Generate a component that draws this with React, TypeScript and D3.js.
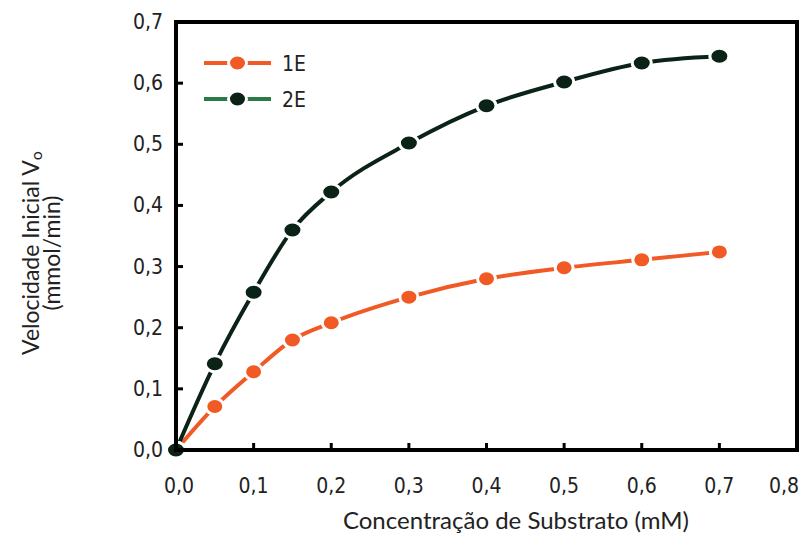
import React from "react";
import * as d3 from "d3";

const xValues = [0, 0.05, 0.1, 0.15, 0.2, 0.3, 0.4, 0.5, 0.6, 0.7];
const series1E = [0, 0.071, 0.128, 0.18, 0.208, 0.25, 0.28, 0.298, 0.311, 0.324];
const series2E = [0, 0.141, 0.258, 0.36, 0.422, 0.502, 0.563, 0.602, 0.633, 0.644];
const xTicks = [0, 0.1, 0.2, 0.3, 0.4, 0.5, 0.6, 0.7, 0.8];
const yTicks = [0, 0.1, 0.2, 0.3, 0.4, 0.5, 0.6, 0.7];
const seriesNames = ["1E", "2E"];

const ORANGE = "#f15a24";
const DARK = "#0b2217";
const GREEN = "#2a7a45";

export default function App() {
  const W = 803, H = 535;
  const left = 176, right = 797, top = 22, bottom = 450;
  const x = d3.scaleLinear().domain([0, 0.8]).range([left, right]);
  const y = d3.scaleLinear().domain([0, 0.7]).range([bottom, top]);
  const fmt = (v: number) => v.toFixed(1).replace(".", ",");
  const line = d3
    .line<[number, number]>()
    .x((d) => x(d[0]))
    .y((d) => y(d[1]))
    .curve(d3.curveMonotoneX);
  const d1 = xValues.map((v, i) => [v, series1E[i]] as [number, number]);
  const d2 = xValues.map((v, i) => [v, series2E[i]] as [number, number]);
  const tickFont = "'DejaVu Sans Condensed', 'DejaVu Sans', sans-serif";
  const titleFont = "Lato, 'Open Sans', sans-serif";

  return (
    <svg width={W} height={H} style={{ position: "absolute", left: 0, top: 0, background: "#fff" }}>
      {/* lines */}
      <path d={line(d1) || ""} fill="none" stroke={ORANGE} strokeWidth={4} />
      <path d={line(d2) || ""} fill="none" stroke={DARK} strokeWidth={4} />
      {/* markers */}
      {d1.map((d, i) => (
        <ellipse key={"a" + i} cx={x(d[0])} cy={y(d[1])} rx={9} ry={8} fill={ORANGE} stroke="#fff" strokeWidth={3} />
      ))}
      {d2.map((d, i) => (
        <ellipse key={"b" + i} cx={x(d[0])} cy={y(d[1])} rx={9.5} ry={8} fill={DARK} stroke="#fff" strokeWidth={3} />
      ))}
      {/* frame */}
      <rect x={left} y={top} width={right - left} height={bottom - top} fill="none" stroke="#000" strokeWidth={4} />
      {/* x ticks */}
      {xTicks.map((t, i) => (
        <g key={"x" + t}>
          {t > 0 && t < 0.8 && (
            <line x1={x(t)} x2={x(t)} y1={bottom} y2={bottom - 7} stroke="#000" strokeWidth={3} />
          )}
          <text
            x={i === xTicks.length - 1 ? 784 : i === 0 ? x(t) + 3 : x(t)}
            y={bottom + 43}
            textAnchor="middle"
            fontFamily={tickFont}
            fontSize={21}
            fill="#222"
          >
            {fmt(t)}
          </text>
        </g>
      ))}
      {/* y ticks */}
      {yTicks.map((t) => (
        <g key={"y" + t}>
          {t > 0 && t < 0.7 && (
            <line x1={left} x2={left + 7} y1={y(t)} y2={y(t)} stroke="#000" strokeWidth={3} />
          )}
          <text x={left - 13} y={y(t) + 7} textAnchor="end" fontFamily={tickFont} fontSize={21} fill="#222">
            {fmt(t)}
          </text>
        </g>
      ))}
      {/* axis titles */}
      <text x={516} y={529} textAnchor="middle" fontFamily={titleFont} fontSize={24} fill="#222">
        Concentração de Substrato (mM)
      </text>
      <g transform="translate(39,253) rotate(-90)">
        <text x={0} y={0} textAnchor="middle" fontFamily={titleFont} fontSize={23} fill="#222">
          Velocidade Inicial V<tspan dy={3} fontSize={16}>o</tspan>
        </text>
      </g>
      <g transform="translate(60,253) rotate(-90)">
        <text x={0} y={0} textAnchor="middle" fontFamily={titleFont} fontSize={23} fill="#222">
          (mmol/min)
        </text>
      </g>
      {/* legend */}
      {seriesNames.map((name, i) => {
        const ly = 63 + i * 36;
        const lineColor = i === 0 ? ORANGE : GREEN;
        const markColor = i === 0 ? ORANGE : DARK;
        return (
          <g key={name}>
            <line x1={204} x2={271} y1={ly} y2={ly} stroke={lineColor} strokeWidth={4} />
            <ellipse cx={237.5} cy={ly} rx={9} ry={8} fill={markColor} stroke="#fff" strokeWidth={3} />
            <text x={282} y={ly + 8} fontFamily={tickFont} fontSize={21} fill="#222">
              {name}
            </text>
          </g>
        );
      })}
    </svg>
  );
}
